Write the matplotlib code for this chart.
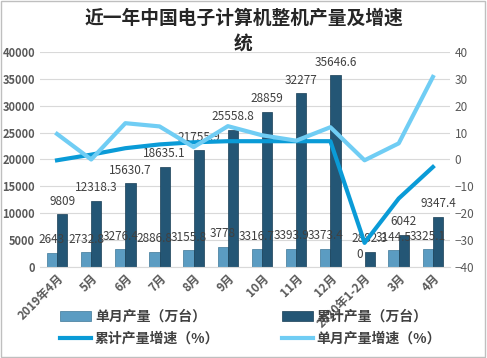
import matplotlib.pyplot as plt
import numpy as np

plt.rcParams['font.family'] = ['Noto Sans CJK SC', 'DejaVu Sans']

months = ['2019年4月', '5月', '6月', '7月', '8月', '9月', '10月', '11月', '12月',
          '2020年1-2月', '3月', '4月']
single = [2643, 2732.8, 3276.4, 2886.8, 3155.8, 3778, 3316.7, 3393.9, 3373.4, 0, 3144.5, 3325.1]
single_lbl = ['2643', '2732.8', '3276.4', '2886.8', '3155.8', '3778', '3316.7', '3393.9',
              '3373.4', '0', '3144.5', '3325.1']
cumul = [9809, 12318.3, 15630.7, 18635.1, 21755.9, 25558.8, 28859, 32277, 35646.6, 2882.3, 6042, 9347.4]
cumul_lbl = ['9809', '12318.3', '15630.7', '18635.1', '21755.9', '25558.8', '28859', '32277',
             '35646.6', '2882.3', '6042', '9347.4']
cumul_growth = [-0.3, 1.8, 4.2, 5.6, 6.4, 6.8, 6.8, 6.8, 6.8, -31, -14.5, -2.8]
single_growth = [9.5, 0, 13.5, 12.3, 4.6, 12.4, 9, 7, 12, -0.3, 6, 30.7]

c_single = '#5B9CC2'
c_cumul = '#245675'
c_lc = '#0A9BD7'
c_ls = '#70CDF4'

fig = plt.figure(figsize=(4.87, 3.58), dpi=100)
fig.patches.append(plt.Rectangle((0.002, 0.002), 0.994, 0.994, transform=fig.transFigure,
                                 fill=False, edgecolor='#BFBFBF', lw=1))
ax = fig.add_axes([0.082, 0.254, 0.842, 0.601])
x = np.arange(len(months))
w = 0.3
b1 = ax.bar(x - w / 2, single, w, color=c_single, edgecolor='#3E7898', lw=0.5, label='单月产量（万台）', zorder=2)
b2 = ax.bar(x + w / 2, cumul, w, color=c_cumul, edgecolor='#173D55', lw=0.5, label='累计产量（万台）', zorder=2)
ax.set_ylim(0, 40000)
ax.set_xlim(-0.5, len(months) - 0.5)
ax.set_yticks(np.arange(0, 40001, 5000))
ax.yaxis.grid(True, color='#D9D9D9', lw=0.8)
ax.set_axisbelow(True)
for s in ['top', 'right', 'left']:
    ax.spines[s].set_visible(False)
ax.spines['bottom'].set_color('#D9D9D9')
ax.tick_params(length=0)
for t in ax.get_yticklabels():
    t.set_fontweight('bold')
    t.set_color('#595959')
    t.set_fontsize(8)
ax.set_xticks(x)
ax.set_xticklabels(months, rotation=45, ha='right', rotation_mode='anchor',
                   fontsize=8.5, fontweight='bold', color='#595959')

for i in range(len(months)):
    ax.text(x[i] - w / 2, single[i] + 1200, single_lbl[i], ha='center', va='bottom',
            fontsize=8.5, color='#404040', zorder=5)
    ax.text(x[i] + w / 2, cumul[i] + 1200, cumul_lbl[i], ha='center', va='bottom',
            fontsize=8.5, color='#404040', zorder=5)

ax2 = ax.twinx()
ax2.set_ylim(-40, 40)
ax2.set_yticks(np.arange(-40, 41, 10))
for s in ax2.spines.values():
    s.set_visible(False)
ax2.tick_params(length=0, labelsize=8.5, colors='#595959')
l1, = ax2.plot(x, cumul_growth, color=c_lc, lw=3, label='累计产量增速（%）', zorder=3)
l2, = ax2.plot(x, single_growth, color=c_ls, lw=3, label='单月产量增速（%）', zorder=3)

fig.text(0.5, 0.975, '近一年中国电子计算机整机产量及增速\n统', ha='center', va='top',
         fontsize=13.5, fontweight='bold', color='#262626', linespacing=1.45)

# row-wise order like the reference: bars on top row, lines below
handles = [b1, l1, b2, l2]
fig.legend(handles, [h.get_label() for h in handles],
           loc='lower center', bbox_to_anchor=(0.515, 0.0), ncol=2, frameon=False,
           prop={'size': 10, 'weight': 'bold'}, labelcolor='#404040',
           columnspacing=4.5, handlelength=2.2, handletextpad=0.3, labelspacing=0.55)

fig.savefig('out.png', dpi=100)
